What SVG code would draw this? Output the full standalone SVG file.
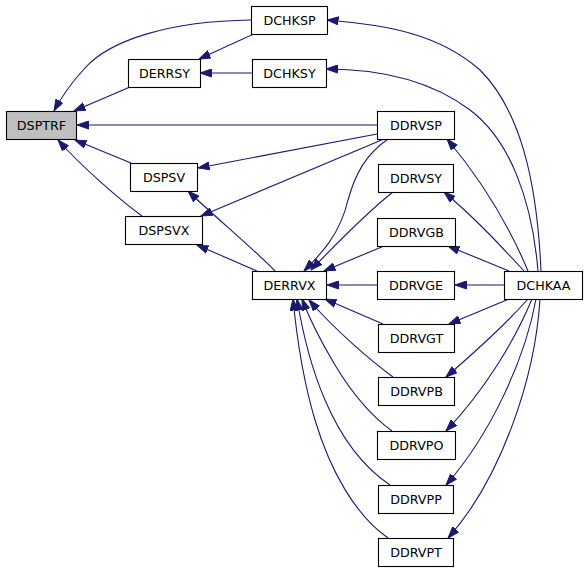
<svg xmlns="http://www.w3.org/2000/svg" width="587" height="572" viewBox="0 0 587 572">
<style>
.n rect{fill:#fff;stroke:#000;stroke-width:1.1}
.n text{font-family:"DejaVu Sans",sans-serif;font-size:12.7px;text-anchor:middle;fill:#000}
#DSPTRF rect{fill:#bfbfbf}
.e path{fill:none;stroke:#191970;stroke-width:1.1;marker-end:url(#ah)}
</style>
<defs>
<marker id="ah" markerUnits="userSpaceOnUse" markerWidth="12" markerHeight="9" viewBox="0 0 12 9" refX="11.5" refY="4.5" orient="auto">
<path d="M0,0.5 L11.5,4.5 L0,8.5 Z" fill="#191970" stroke="#191970" stroke-width="1"/>
</marker>
</defs>
<rect width="587" height="572" fill="#fff"/>
<g id="edges" class="e">
<path d="M251,20 C170,21 110,40 85,68 C72,82 62,96 54,111"/>
<path d="M256,33 L199,59"/>
<path d="M130,87 L74,111"/>
<path d="M252,73 L200,73"/>
<path d="M377,125 L77,125"/>
<path d="M131,163 L75,140"/>
<path d="M142,216 C120,200 82,167 58,140"/>
<path d="M377,134 L198,168"/>
<path d="M384,139 L201,216"/>
<path d="M275,271 C255,250 215,217 188,191"/>
<path d="M257,271 L197,245"/>
<path d="M388,139 C365,155 355,175 348,200 C340,235 320,255 304,271"/>
<path d="M393,192 C370,210 340,240 311,270"/>
<path d="M384,246 L324,271"/>
<path d="M377,285 L327,285"/>
<path d="M383,324 L325,299"/>
<path d="M393,377 C370,360 335,330 309,300"/>
<path d="M392,431 C370,415 350,390 335,365 C320,340 310,320 302,299"/>
<path d="M390,485 C360,465 340,435 325,400 C312,370 303,335 297,299"/>
<path d="M388,538 C355,515 330,470 315,420 C303,380 297,340 293,299"/>
<path d="M541,271 C537,180 520,110 480,70 C440,35 390,25 327,20"/>
<path d="M538,271 C532,200 510,140 470,110 C430,80 380,69 326,69"/>
<path d="M528,271 C515,240 490,190 447,139"/>
<path d="M524,271 C500,245 475,218 444,192"/>
<path d="M509,271 L448,246"/>
<path d="M504,285 L455,285"/>
<path d="M509,299 L449,324"/>
<path d="M528,299 C505,325 475,352 446,377"/>
<path d="M532,299 C515,340 485,390 446,431"/>
<path d="M536,299 C525,360 490,435 446,485"/>
<path d="M540,299 C535,380 500,480 448,538"/>
</g>
<g id="DSPTRF" class="n"><rect x="6.5" y="111.5" width="70" height="28"/><text x="41.5" y="130">DSPTRF</text></g>
<g id="DCHKSP" class="n"><rect x="251.5" y="6.5" width="76" height="28"/><text x="289.5" y="25">DCHKSP</text></g>
<g id="DERRSY" class="n"><rect x="128.5" y="59.5" width="72" height="28"/><text x="164.5" y="78">DERRSY</text></g>
<g id="DCHKSY" class="n"><rect x="252.5" y="59.5" width="74" height="28"/><text x="289.5" y="78">DCHKSY</text></g>
<g id="DSPSV" class="n"><rect x="130.5" y="163.5" width="67" height="28"/><text x="164" y="182">DSPSV</text></g>
<g id="DSPSVX" class="n"><rect x="125.5" y="216.5" width="77" height="28"/><text x="164" y="235">DSPSVX</text></g>
<g id="DERRVX" class="n"><rect x="252.5" y="271.5" width="74" height="28"/><text x="289.5" y="290">DERRVX</text></g>
<g id="DDRVSP" class="n"><rect x="377.5" y="111.5" width="77" height="28"/><text x="416" y="130">DDRVSP</text></g>
<g id="DDRVSY" class="n"><rect x="378.5" y="164.5" width="75" height="28"/><text x="416" y="183">DDRVSY</text></g>
<g id="DDRVGB" class="n"><rect x="377.5" y="218.5" width="78" height="28"/><text x="416.5" y="237">DDRVGB</text></g>
<g id="DDRVGE" class="n"><rect x="377.5" y="271.5" width="77" height="28"/><text x="416" y="290">DDRVGE</text></g>
<g id="DCHKAA" class="n"><rect x="504.5" y="271.5" width="78" height="28"/><text x="543.5" y="290">DCHKAA</text></g>
<g id="DDRVGT" class="n"><rect x="378.5" y="324.5" width="76" height="28"/><text x="416.5" y="343">DDRVGT</text></g>
<g id="DDRVPB" class="n"><rect x="378.5" y="377.5" width="76" height="28"/><text x="416.5" y="396">DDRVPB</text></g>
<g id="DDRVPO" class="n"><rect x="377.5" y="431.5" width="78" height="28"/><text x="416.5" y="450">DDRVPO</text></g>
<g id="DDRVPP" class="n"><rect x="378.5" y="485.5" width="75" height="28"/><text x="416" y="504">DDRVPP</text></g>
<g id="DDRVPT" class="n"><rect x="378.5" y="538.5" width="75" height="28"/><text x="416" y="557">DDRVPT</text></g>
</svg>
